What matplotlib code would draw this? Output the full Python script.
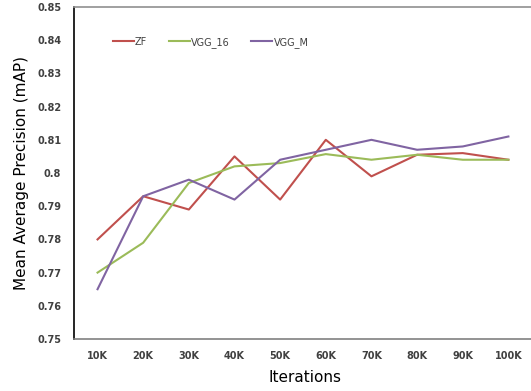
import matplotlib.pyplot as plt

# iteration labels and mAP values
iterations = ['10K', '20K', '30K', '40K', '50K', '60K', '70K', '80K', '90K', '100K']
zf = [0.780, 0.793, 0.789, 0.805, 0.792, 0.810, 0.799, 0.8055, 0.806, 0.804]
vgg16 = [0.770, 0.779, 0.797, 0.802, 0.803, 0.8057, 0.804, 0.8055, 0.804, 0.804]
vggm = [0.765, 0.793, 0.798, 0.792, 0.804, 0.807, 0.810, 0.807, 0.808, 0.811]

fig = plt.figure(figsize=(5.31, 3.91), dpi=100)
ax = fig.add_axes([0.139, 0.133, 0.87, 0.849])

x = range(len(iterations))
ax.plot(x, zf, color='#C0504D', lw=1.5, label='ZF')
ax.plot(x, vgg16, color='#9BBB59', lw=1.5, label='VGG_16')
ax.plot(x, vggm, color='#8064A2', lw=1.5, label='VGG_M')

ax.set_xlim(-0.52, 9.6)
ax.set_ylim(0.75, 0.85)
ax.set_xticks(list(x))
ax.set_xticklabels(iterations)
ax.set_yticks([0.75, 0.76, 0.77, 0.78, 0.79, 0.8, 0.81, 0.82, 0.83, 0.84, 0.85])
ax.set_yticklabels(['0.75', '0.76', '0.77', '0.78', '0.79', '0.8', '0.81',
                    '0.82', '0.83', '0.84', '0.85'])
ax.tick_params(length=0, labelsize=7, labelcolor='#404040', pad=9)
for lab in ax.get_xticklabels() + ax.get_yticklabels():
    lab.set_fontweight('bold')

ax.spines['left'].set_color('black')
ax.spines['left'].set_linewidth(1.2)
ax.spines['bottom'].set_color('#808080')
ax.spines['bottom'].set_linewidth(1.2)
ax.spines['top'].set_color('#909090')
ax.spines['top'].set_linewidth(1.2)
ax.spines['right'].set_visible(False)

ax.set_xlabel('Iterations', fontsize=11, labelpad=6)
ax.set_ylabel('Mean Average Precision (mAP)', fontsize=11, labelpad=6)

leg = ax.legend(loc='upper left', bbox_to_anchor=(0.065, 0.937), ncol=3, frameon=False,
                fontsize=7, handlelength=2.2, handletextpad=0.1, columnspacing=2.2)
for t in leg.get_texts():
    t.set_color('#404040')

fig.savefig('out.png', dpi=100)
